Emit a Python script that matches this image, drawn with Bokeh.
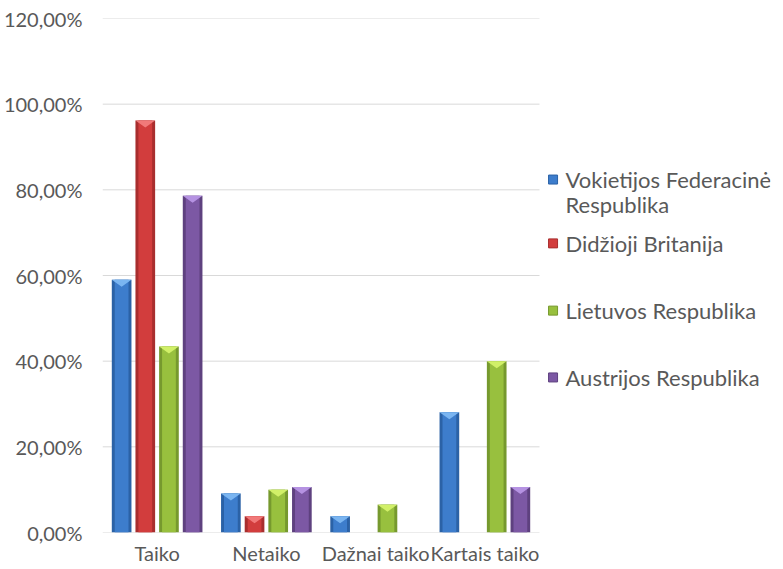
from bokeh.plotting import figure
from bokeh.models import Range1d, FixedTicker, ColumnDataSource
from bokeh.core.properties import value
from bokeh.embed import file_html
from bokeh.resources import INLINE

categories = ["Taiko", "Netaiko", "Dažnai taiko", "Kartais taiko"]
series_names = ["Vokietijos Federacinė Respublika", "Didžioji Britanija",
                "Lietuvos Respublika", "Austrijos Respublika"]
vokietija = [59.0, 9.1, 3.8, 28.1]
britanija = [96.2, 3.8, 0.0, 0.0]
lietuva = [43.4, 10.0, 6.5, 40.0]
austrija = [78.6, 10.6, 0.0, 10.6]
y_ticks = [0, 20, 40, 60, 80, 100, 120]
y_tick_labels = ["0,00%", "20,00%", "40,00%", "60,00%", "80,00%", "100,00%", "120,00%"]

series_values = [vokietija, britanija, lietuva, austrija]
dark = ["#2B62A6", "#A82E2E", "#76992E", "#5E417F"]
mid = ["#3D7DCC", "#D23D3D", "#98C03E", "#7C58A4"]
light = ["#7DB8F2", "#F27C7C", "#D4F26A", "#B896E6"]

FONT = "Lato"
TXT = "#595959"

W, H = 775, 568
LEFT, RIGHT, TOP, BOTTOM = 102, 5, 18, 36
unit_px = 109.25
x_end = (W - LEFT - RIGHT) / unit_px

p = figure(width=W, height=H, output_backend="svg", toolbar_location=None,
           x_range=Range1d(0, x_end), y_range=Range1d(0, 120),
           min_border_left=LEFT, min_border_right=RIGHT, min_border_top=TOP, min_border_bottom=BOTTOM)
p.outline_line_color = None
p.xgrid.visible = False
p.ygrid.visible = False

# gridlines over the category area only
p.segment(x0=[0] * len(y_ticks), x1=[len(categories)] * len(y_ticks), y0=y_ticks, y1=y_ticks,
          line_color="#D9D9D9", line_width=1)

n = len(series_values)
pitch = 0.2166
bw = 0.18
px_per_unit_y = (H - TOP - BOTTOM) / 120
tri_h = 7 / px_per_unit_y
for j, vals in enumerate(series_values):
    off = (j - (n - 1) / 2) * pitch
    xs = [i + 0.5 + off for i in range(len(categories))]
    src = ColumnDataSource(dict(x=xs, top=vals))
    p.vbar(x="x", top="top", width=bw, source=src, fill_color=dark[j], line_color=None)
    p.vbar(x="x", top="top", width=bw * 0.7, source=src, fill_color=mid[j], line_color=None)
    txs, tys = [], []
    for x, v in zip(xs, vals):
        if v <= 0:
            continue
        txs.append([x - bw / 2, x + bw / 2, x])
        tys.append([v, v, v - min(tri_h, v)])
    p.patches(txs, tys, fill_color=light[j], line_color=None, fill_alpha=0.95)

# legend drawn beside the plot area
leg_sq_x = 4.124
leg_tx_x = 4.238
leg_y = [82.4, 67.5, 51.8, 36.2]
line_gap = 5.8
p.rect(x=[leg_sq_x] * n, y=leg_y, width=9, height=9, width_units="screen", height_units="screen",
       fill_color=mid, line_color=dark, line_width=1)
lx, ly, lt = [], [], []
for name, y in zip(series_names, leg_y):
    if name.startswith("Vokietijos"):
        parts = ["Vokietijos Federacinė", "Respublika"]
    else:
        parts = [name]
    for k, part in enumerate(parts):
        lx.append(leg_tx_x)
        ly.append(y - k * line_gap)
        lt.append(part)
p.text(x=lx, y=ly, text=lt, text_font=value(FONT), text_font_size="22px",
       text_color=TXT, text_baseline="middle", text_align="left")

# axes
p.yaxis.ticker = FixedTicker(ticks=y_ticks)
p.yaxis.major_label_overrides = {t: l for t, l in zip(y_ticks, y_tick_labels)}
p.yaxis.axis_line_color = None
p.yaxis.major_tick_line_color = None
p.yaxis.minor_tick_line_color = None
p.yaxis.major_tick_out = 0
p.yaxis.major_label_standoff = 20
p.yaxis.major_label_text_font = FONT
p.yaxis.major_label_text_font_size = "20px"
p.yaxis.major_label_text_color = TXT

cx = [i + 0.5 for i in range(len(categories))]
p.xaxis.ticker = FixedTicker(ticks=cx)
p.xaxis.major_label_overrides = {t: l for t, l in zip(cx, categories)}
p.xaxis.axis_line_color = None
p.xaxis.major_tick_line_color = None
p.xaxis.minor_tick_line_color = None
p.xaxis.major_tick_out = 0
p.xaxis.major_label_standoff = 8
p.xaxis.major_label_text_font = FONT
p.xaxis.major_label_text_font_size = "20px"
p.xaxis.major_label_text_color = TXT

open("out.html", "w").write(file_html(p, INLINE))
